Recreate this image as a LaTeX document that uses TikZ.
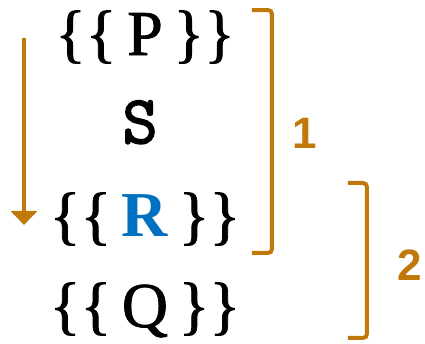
\documentclass[tikz,border=0pt]{standalone}
\usepackage{fontspec}
\setmainfont{Liberation Serif}[FakeBold=1.2]
\newfontfamily\keyfont{Liberation Serif}[FakeBold=1.2,BoldFont={Liberation Serif Bold}]
\newfontfamily\labelfont{Liberation Sans}
\newfontfamily\codefont{Latin Modern Mono}[FakeBold=2.5]
\usetikzlibrary{arrows.meta}
\definecolor{brkorange}{HTML}{C0780A}
\definecolor{keyblue}{HTML}{0070C0}
\tikzset{
	tmpl/.style={anchor=base, inner sep=0pt, font=\fontsize{32}{38}\selectfont},
	brk/.style={draw=brkorange, line width=2pt, rounded corners=2pt},
	brklabel/.style={text=brkorange, font=\labelfont\bfseries\fontsize{22}{26}\selectfont}
}
\begin{document}
\begin{tikzpicture}[x=0.5pt, y=0.5pt]
	\useasboundingbox (0,0) rectangle (425,344);
	% Lines
	\node[tmpl] (p) at (145,289) {\{\{\,P\,\}\}};
	\node[tmpl, font=\codefont\fontsize{34}{38}\selectfont] (s) at (140,201) {S};
	\node[tmpl] (r) at (145,107) {\{\{\,\textcolor{keyblue}{\fontspec{Liberation Serif Bold}R}\,\}\}};
	\node[tmpl] (q) at (145,17) {\{\{\,Q\,\}\}};
	% Arrow
	\coordinate (top) at (24,306);
	\coordinate (bot) at (24,119);
	\draw[brkorange, line width=2pt, -{Triangle[width=13pt, length=7pt]}] (top) -- (bot);
	% Brackets
	\draw[brk] (252,334) -- (272,334) -- (272,91) -- (252,91);
	\node[brklabel] (one) at (305,211) {1};
	\draw[brk] (348,161) -- (367,161) -- (367,6) -- (348,6);
	\node[brklabel] (two) at (410,79) {2};
\end{tikzpicture}
\end{document}
